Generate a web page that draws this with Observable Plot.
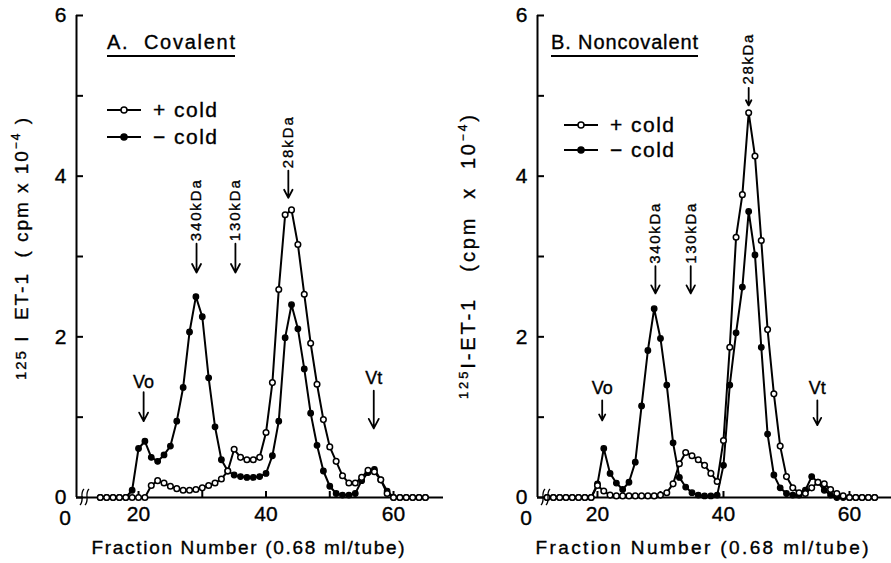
<!DOCTYPE html>
<html><head><meta charset="utf-8">
<script src="https://cdn.jsdelivr.net/npm/d3@7"></script>
<script src="https://cdn.jsdelivr.net/npm/@observablehq/plot@0.6"></script>
<style>
body{margin:0;background:#fff;}
#wrap{display:flex;width:891px;height:563px;overflow:hidden;}
#wrap svg{display:block;}
#wrap svg text{white-space:pre;stroke:#000;stroke-width:0.35px;}
</style></head><body><div id="wrap"></div>
<script>
// ---------- data ----------
const fractionsA = d3.range(14, 66);
const plusColdA = [0,0,0,0,0,0,0,0,
  0.15,0.21,0.18,0.14,0.11,0.09,0.09,0.10,0.12,0.15,0.18,0.23,0.33,0.60,0.50,0.47,0.47,0.50,
  0.81,1.43,2.59,3.52,3.58,3.15,2.53,1.92,1.41,0.97,0.63,0.45,0.27,0.18,0.18,0.25,0.34,0.32,0.22,0.05,
  0,0,0,0,0,0];
const minusColdA = [0,0,0,0,0,
  0.09,0.61,0.70,0.50,0.45,0.53,0.64,0.95,1.37,2.06,2.50,2.25,1.49,0.88,0.47,0.33,0.28,0.26,0.25,0.25,0.26,
  0.30,0.52,0.95,1.99,2.40,2.10,1.60,1.05,0.65,0.33,0.14,0.05,0.03,0.03,0.05,0.21,0.31,0.35,0.22,0.08,
  0,0,0,0,0,0];

const fractionsB = d3.range(12, 65);
const plusColdB = [0,0,0,0,0,0,0,0,
  0.15,0.08,0.03,0.02,0.02,0.02,0.02,0.02,0.02,0.02,0.03,0.06,0.17,0.42,0.56,0.52,0.47,0.40,0.30,0.20,
  0.71,1.87,3.24,3.77,4.79,4.25,3.20,2.09,1.29,0.64,0.26,0.12,0.06,0.05,0.12,0.19,0.17,0.10,0.05,0.02,
  0,0,0,0,0];
const minusColdB = [0,0,0,0,0,0,0,0,
  0.17,0.61,0.30,0.18,0.10,0.19,0.44,1.14,1.83,2.35,1.98,1.40,0.68,0.25,0.13,0.06,0.03,0.02,0.02,0.03,
  0.40,1.40,2.05,2.62,3.56,3.02,1.87,0.79,0.28,0.12,0.05,0.03,0.03,0.09,0.26,0.19,0.09,0.03,0,0,
  0,0,0,0,0];

const yTicks = [0, 1, 2, 3, 4, 5, 6];
const yTickLabels = [0, 2, 4, 6];
const xMinorTicks = [20, 30, 40, 50, 60];
const xTickLabels = [20, 40, 60];

// annotations: marker name, fraction, value levels
const markersA = [
  {label: "340kDa", x: 29.1, textBottom: 3.19, top: 3.16, bottom: 2.80},
  {label: "130kDa", x: 35.2, textBottom: 3.19, top: 3.16, bottom: 2.80},
  {label: "28kDa",  x: 43.5, textBottom: 4.10, top: 4.07, bottom: 3.73}
];
const volumesA = [
  {label: "Vo", x: 20.8, ty: 1.43, top: 1.31, bottom: 0.95},
  {label: "Vt", x: 56.9, ty: 1.48, top: 1.33, bottom: 0.86}
];
const markersB = [
  {label: "340kDa", x: 29.2, textBottom: 2.91, top: 2.88, bottom: 2.54},
  {label: "130kDa", x: 34.8, textBottom: 2.91, top: 2.88, bottom: 2.54},
  {label: "28kDa",  x: 44.0, textBottom: 5.14, top: 5.10, bottom: 4.88}
];
const volumesB = [
  {label: "Vo", x: 20.75, ty: 1.36, top: 1.21, bottom: 0.96},
  {label: "Vt", x: 54.9, ty: 1.36, top: 1.21, bottom: 0.90}
];
const legendLabels = ["+ cold", "\u2212 cold"];
const xAxisLabel = "Fraction Number (0.68 ml/tube)";

// ---------- drawing ----------
const FONT = "'Liberation Sans', Arial, sans-serif";

function panel(cfg) {
  const plusRows = cfg.fractions.map((f, i) => ({f, v: cfg.plus[i]}));
  const minusRows = cfg.fractions.map((f, i) => ({f, v: cfg.minus[i]}));
  const svg = Plot.plot({
    width: cfg.width, height: 563,
    marginLeft: cfg.marginLeft, marginRight: cfg.marginRight, marginTop: 15, marginBottom: 66,
    x: {domain: cfg.xDomain},
    y: {domain: [0, 6]},
    style: {fontFamily: FONT, color: "black", background: "white"},
    marks: [
      Plot.ruleY([0], {strokeWidth: 2}),
      Plot.ruleX([cfg.xDomain[0]], {y1: 0, y2: 6, strokeWidth: 2}),
      Plot.axisY(yTicks, {tickSize: -7, strokeWidth: 2, tickFormat: () => "", label: null}),
      Plot.axisY(yTickLabels, {tickSize: 0, tickPadding: 10, fontSize: 21, tickFormat: d => String(d), label: null}),
      Plot.axisX(xMinorTicks, {tickSize: -6, strokeWidth: 2, tickFormat: () => "", label: null}),
      Plot.axisX(xTickLabels, {tickSize: 0, tickPadding: 9, fontSize: 21, tickFormat: d => String(d), label: null}),
      Plot.line(minusRows, {x: "f", y: "v", strokeWidth: 2}),
      Plot.line(plusRows, {x: "f", y: "v", strokeWidth: 2}),
      Plot.dot(minusRows, {x: "f", y: "v", r: 2.8, fill: "black", stroke: "black", strokeWidth: 1.2}),
      Plot.dot(plusRows, {x: "f", y: "v", r: 2.8, fill: "white", stroke: "black", strokeWidth: 1.5}),
      Plot.arrow(cfg.markers, {x1: "x", x2: "x", y1: "top", y2: "bottom", headLength: 9, headAngle: 55, strokeWidth: 1.8}),
      Plot.text(cfg.markers, {x: "x", y: "textBottom", text: "label", rotate: -90, textAnchor: "start", fontSize: 15}),
      Plot.arrow(cfg.volumes, {x1: "x", x2: "x", y1: "top", y2: "bottom", headLength: 9, headAngle: 55, strokeWidth: 1.8}),
      Plot.text(cfg.volumes, {x: "x", y: "ty", text: "label", fontSize: 18})
    ]
  });
  const s = d3.select(svg);
  // stretch the rotated marker labels to the reference lengths
  s.selectAll("text").filter(function() { return /kDa$/.test(this.textContent); })
    .attr("textLength", function() { return this.textContent.length === 6 ? cfg.kdaLong : cfg.kdaShort; })
    .attr("lengthAdjust", "spacing");
  const g = s.append("g").attr("font-family", FONT).attr("fill", "black").attr("text-anchor", "start");
  // panel title with underline
  g.append("text").attr("x", cfg.titleX).attr("y", 49).attr("font-size", 20)
    .attr("text-anchor", "start").attr("textLength", cfg.titleW).attr("lengthAdjust", "spacing").text(cfg.title);
  g.append("line").attr("x1", cfg.titleX).attr("x2", cfg.titleX + cfg.titleW)
    .attr("y1", 56).attr("y2", 56).attr("stroke", "black").attr("stroke-width", 1.8);
  // legend
  legendLabels.forEach((lab, i) => {
    const y = cfg.legendY + i * cfg.legendGap;
    g.append("line").attr("x1", cfg.legendX).attr("x2", cfg.legendX + 34).attr("y1", y).attr("y2", y)
      .attr("stroke", "black").attr("stroke-width", 2);
    g.append("circle").attr("cx", cfg.legendX + 17).attr("cy", y).attr("r", 3)
      .attr("fill", i === 0 ? "white" : "black").attr("stroke", "black").attr("stroke-width", 1.5);
    g.append("text").attr("x", cfg.legendX + 46).attr("y", y + 7).attr("font-size", 21)
      .attr("text-anchor", "start").attr("textLength", 64).attr("lengthAdjust", "spacing").text(lab);
  });
  // y axis title with superscripts
  const yl = g.append("text").attr("transform", `translate(${cfg.yLabelX},${cfg.yLabelY}) rotate(-90)`)
    .attr("text-anchor", "middle").attr("font-size", cfg.yFont)
    .attr("textLength", cfg.yLabelLen).attr("lengthAdjust", "spacing");
  cfg.yLabelParts.forEach(p => {
    const ts = yl.append("tspan").text(p.t);
    if (p.sup) ts.attr("font-size", p.size).attr("dy", -p.shift);
    if (p.back) ts.attr("dy", p.back);
  });
  // x axis title
  g.append("text").attr("x", cfg.xLabelX).attr("y", 554).attr("text-anchor", "middle")
    .attr("font-size", 19).attr("textLength", cfg.xLabelLen).attr("lengthAdjust", "spacing").text(xAxisLabel);
  // "0" of the broken x axis and break marks
  g.append("text").attr("x", cfg.marginLeft - 11).attr("y", 525).attr("text-anchor", "middle")
    .attr("font-size", 21).text("0");
  [0, 5].forEach(o => {
    const x = cfg.marginLeft + 6 + o;
    g.append("path").attr("d", `M${x - 2},505 C${x + 3},500 ${x - 3},494 ${x + 2},489`)
      .attr("fill", "none").attr("stroke", "black").attr("stroke-width", 1.3);
  });
  return svg;
}

const wrap = document.getElementById("wrap");
wrap.appendChild(panel({
  width: 445, marginLeft: 76, marginRight: 2, xDomain: [10.27, 67.84],
  fractions: fractionsA, plus: plusColdA, minus: minusColdA,
  markers: markersA, volumes: volumesA, kdaLong: 61, kdaShort: 51,
  title: "A.  Covalent", titleX: 107, titleW: 128,
  legendX: 107, legendY: 110, legendGap: 27,
  yLabelParts: [
    {t: "125", sup: true, size: 15, shift: 2},
    {t: " I  ET-1  ( cpm x 10", back: 2},
    {t: "\u22124", sup: true, size: 12, shift: 8},
    {t: " )", back: 8}
  ],
  yFont: 19, yLabelX: 28, yLabelY: 249, yLabelLen: 262,
  xLabelX: 248, xLabelLen: 313
}));
wrap.appendChild(panel({
  width: 446, marginLeft: 92, marginRight: 0, xDomain: [10.48, 66.67],
  fractions: fractionsB, plus: plusColdB, minus: minusColdB,
  markers: markersB, volumes: volumesB, kdaLong: 60, kdaShort: 50,
  title: "B. Noncovalent", titleX: 106, titleW: 147,
  legendX: 119, legendY: 125, legendGap: 25,
  yLabelParts: [
    {t: "125", sup: true, size: 13, shift: 7},
    {t: "I-ET-1   (cpm  x  10", back: 7},
    {t: "\u22124", sup: true, size: 12, shift: 8},
    {t: ")", back: 8}
  ],
  yFont: 20, yLabelX: 30, yLabelY: 257, yLabelLen: 284,
  xLabelX: 257, xLabelLen: 333
}));
</script></body></html>
